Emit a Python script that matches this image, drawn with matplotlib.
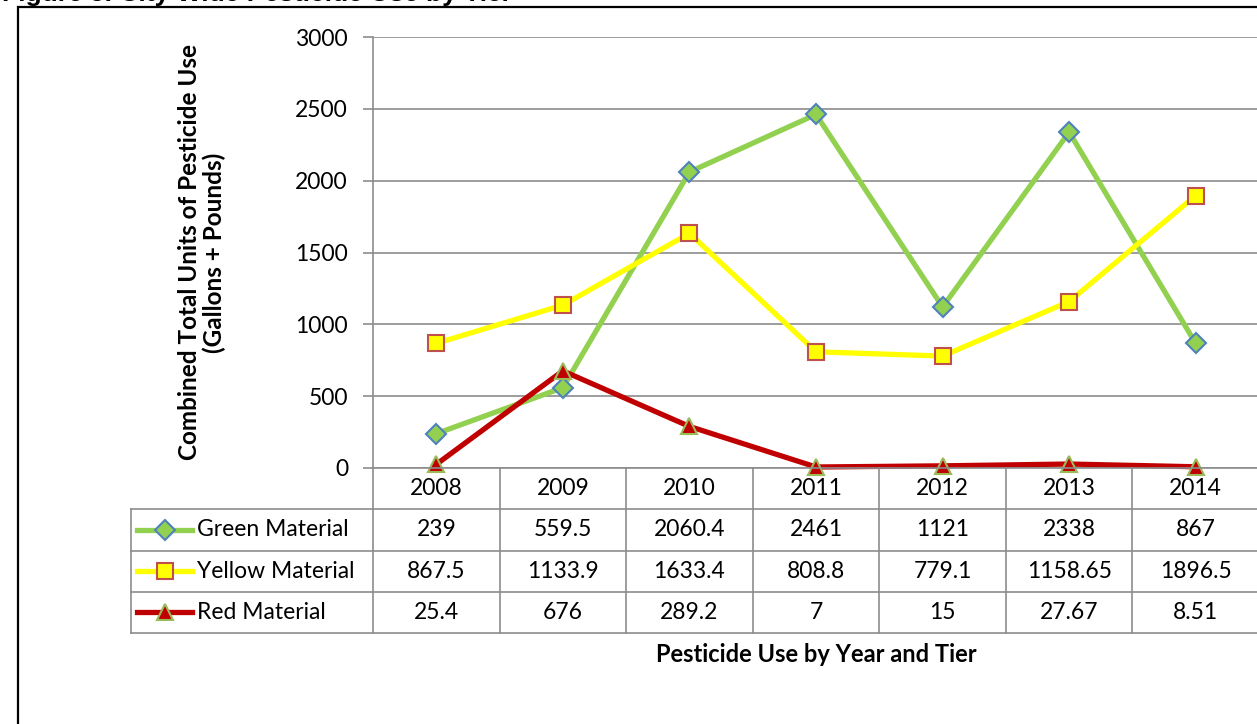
import matplotlib.pyplot as plt
from matplotlib.lines import Line2D
from matplotlib.patches import Rectangle

# data
years = ["2008", "2009", "2010", "2011", "2012", "2013", "2014"]
green = [239, 559.5, 2060.4, 2461, 1121, 2338, 867]
yellow = [867.5, 1133.9, 1633.4, 808.8, 779.1, 1158.65, 1896.5]
red = [25.4, 676, 289.2, 7, 15, 27.67, 8.51]
green_txt = ["239", "559.5", "2060.4", "2461", "1121", "2338", "867"]
yellow_txt = ["867.5", "1133.9", "1633.4", "808.8", "779.1", "1158.65", "1896.5"]
red_txt = ["25.4", "676", "289.2", "7", "15", "27.67", "8.51"]
series_names = ["Green Material", "Yellow Material", "Red Material"]

W, H = 1257, 724
plt.rcParams['font.family'] = ['Lato', 'DejaVu Sans']
fig = plt.figure(figsize=(W / 100, H / 100), dpi=100)

grid_c = "#8c8c8c"
fs = 16.5

# outer border and clipped caption
fig.add_artist(Rectangle((18 / W, -0.05), 1.2, 1 - 7 / H + 0.05, transform=fig.transFigure,
                         fill=False, edgecolor="black", linewidth=1.6))
fig.text(2 / W, 1 - 0.5 / H, "Figure 5. City Wide Pesticide Use by Tier", fontsize=19,
         fontweight="bold", family="Liberation Sans", va="baseline", ha="left")

# main plot area (pixel layout)
x0, x1 = 373, 1259
y_top, y_zero = 37, 468
ax = fig.add_axes([x0 / W, 1 - y_zero / H, (x1 - x0) / W, (y_zero - y_top) / H])
ax.set_xlim(-0.5, 6.5)
ax.set_ylim(0, 3000)
ax.set_yticks(range(0, 3001, 500))
ax.set_xticks([])
for s in ["top", "right", "bottom"]:
    ax.spines[s].set_visible(False)
ax.spines["left"].set_color(grid_c)
ax.spines["left"].set_linewidth(1.2)
ax.tick_params(axis="y", length=7, color=grid_c, width=1.2, labelsize=fs, pad=11)
ax.grid(axis="y", color=grid_c, linewidth=1.2)
ax.set_axisbelow(True)

xs = range(len(years))
styles = [
    (green, "#92D050", "D", "#92D050", "#4F81BD", 10),
    (yellow, "#FFFF00", "s", "#FFFF00", "#C0504D", 11),
    (red, "#C00000", "^", "#C00000", "#9BBB59", 12),
]
for vals, lc, mk, fc, ec, ms in styles:
    ax.plot(xs, vals, color=lc, linewidth=3.8, marker=mk, markersize=ms,
            markerfacecolor=fc, markeredgecolor=ec, markeredgewidth=1.5, clip_on=False, zorder=3)

ax.set_ylabel("Combined Total Units of Pesticide Use\n(Gallons + Pounds)", fontsize=17.5,
              fontweight="bold", linespacing=1.05)
ax.yaxis.set_label_coords(-(x0 - 226) / (x1 - x0), 0.5)

# data table below the plot
t_left = 131
t_bottom = 633
unit = (x1 - x0) / 7.0
lab_w = (x0 - t_left) / unit
tax = fig.add_axes([t_left / W, 1 - t_bottom / H, (x1 - t_left) / W, (t_bottom - y_zero) / H])
tax.set_xlim(-0.5 - lab_w, 6.5)
tax.set_ylim(0, 4)
tax.axis("off")

lw = 1.2
# horizontal lines
tax.plot([-0.5, 6.5], [4, 4], color=grid_c, lw=lw, clip_on=False)
for yv in [0, 1, 2, 3]:
    tax.plot([-0.5 - lab_w, 6.5], [yv, yv], color=grid_c, lw=lw, clip_on=False)
# vertical lines
tax.plot([-0.5 - lab_w] * 2, [0, 3], color=grid_c, lw=lw, clip_on=False)
for i in range(8):
    tax.plot([i - 0.5] * 2, [0, 4], color=grid_c, lw=lw, clip_on=False)

for i, yr in enumerate(years):
    tax.text(i, 3.5, yr, ha="center", va="center", fontsize=fs)
rows = [green_txt, yellow_txt, red_txt]
for r, (txts, name, st) in enumerate(zip(rows, series_names, styles)):
    yc = 2.5 - r
    for i, t in enumerate(txts):
        tax.text(i, yc, t, ha="center", va="center", fontsize=fs)
    _, lc, mk, fc, ec, ms = st
    lx0 = -0.5 - lab_w + 6 / unit
    lx1 = -0.5 - lab_w + 61 / unit
    tax.add_line(Line2D([lx0, lx1], [yc, yc], color=lc, linewidth=3.8))
    tax.add_line(Line2D([(lx0 + lx1) / 2], [yc], marker=mk, markersize=ms, markerfacecolor=fc,
                        markeredgecolor=ec, markeredgewidth=1.5))
    tax.text(-0.5 - lab_w + 66 / unit, yc, name, ha="left", va="center", fontsize=fs)

fig.text(816 / W, 1 - 655 / H, "Pesticide Use by Year and Tier", ha="center", va="center",
         fontsize=17, fontweight="bold")

plt.savefig("out.png", dpi=100)
